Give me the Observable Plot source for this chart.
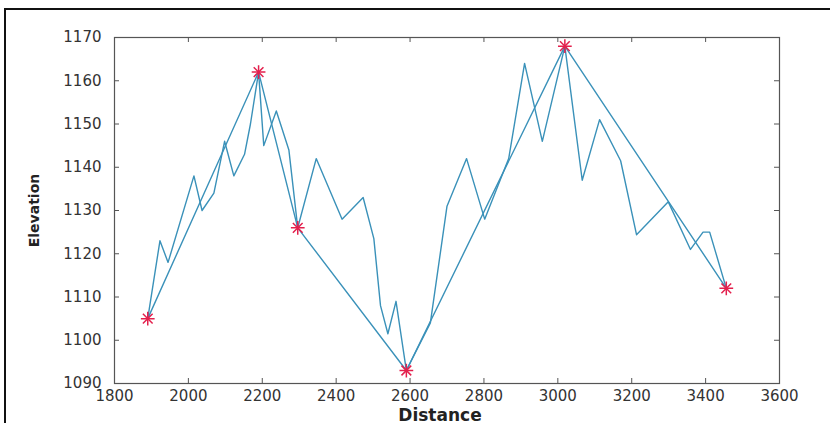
<!DOCTYPE html>
<html>
<head>
<meta charset="utf-8">
<script src="https://cdn.jsdelivr.net/npm/d3@7"></script>
<script src="https://cdn.jsdelivr.net/npm/@observablehq/plot@0.6"></script>
<style>
  html, body { margin: 0; padding: 0; background: #fff; }
  #wrap { position: relative; width: 830px; height: 423px; overflow: hidden; }
  #frame { position: absolute; left: 4px; top: 8px; width: 900px; height: 500px; border: 2px solid #111; box-sizing: border-box; pointer-events: none; }
</style>
</head>
<body>
<div id="wrap"><div id="frame"></div></div>
<script>
// Detailed elevation profile
const profileDistance = [1890, 1923, 1945, 2015, 2037, 2069, 2098, 2123, 2152, 2168, 2190, 2204, 2238, 2272, 2296, 2346, 2416, 2473, 2502, 2520, 2540, 2562, 2590, 2655, 2700, 2753, 2802, 2867, 2910, 2958, 3019, 3066, 3113, 3170, 3213, 3299, 3359, 3393, 3411, 3456];
const profileElevation = [1105, 1123, 1118, 1138, 1130, 1134, 1146, 1138, 1143, 1150, 1162, 1145, 1153, 1144, 1126, 1142, 1128, 1133, 1123.5, 1108, 1101.5, 1109, 1093, 1104, 1131, 1142, 1128, 1142, 1164, 1146, 1168, 1137, 1151, 1141.5, 1124.4, 1132, 1121, 1125, 1125, 1112];

// Key (simplified) points marked with red stars
const keyDistance = [1890, 2190, 2296, 2590, 3019, 3456];
const keyElevation = [1105, 1162, 1126, 1093, 1168, 1112];

// Axis ticks
const xTicks = [1800, 2000, 2200, 2400, 2600, 2800, 3000, 3200, 3400, 3600];
const yTicks = [1090, 1100, 1110, 1120, 1130, 1140, 1150, 1160, 1170];

const profile = profileDistance.map((d, i) => ({distance: d, elevation: profileElevation[i]}));
const keys = keyDistance.map((d, i) => ({distance: d, elevation: keyElevation[i]}));

const lineColor = "#3a91b9";
const starColor = "#e3204d";
const axisColor = "#555";

const W = 830, H = 423;
const mL = 114, mR = 51, mT = 37, mB = 40;
const plotW = W - mL - mR, plotH = H - mT - mB;
const tickLen = 5;

const chart = Plot.plot({
  width: W,
  height: H,
  marginLeft: mL,
  marginRight: mR,
  marginTop: mT,
  marginBottom: mB,
  style: {fontFamily: "DejaVu Sans, Liberation Sans, sans-serif", fontSize: "15px", color: "#333", background: "transparent"},
  x: {domain: [1800, 3600]},
  y: {domain: [1090, 1170]},
  marks: [
    Plot.tickX(xTicks, {x: d => d, insetTop: plotH - tickLen, stroke: axisColor}),
    Plot.tickX(xTicks, {x: d => d, insetBottom: plotH - tickLen, stroke: axisColor}),
    Plot.tickY(yTicks, {y: d => d, insetRight: plotW - tickLen, stroke: axisColor}),
    Plot.tickY(yTicks, {y: d => d, insetLeft: plotW - tickLen, stroke: axisColor}),
    Plot.axisX({ticks: xTicks, tickSize: 0, tickPadding: 7, label: null, tickFormat: d3.format("d"), fill: "#333"}),
    Plot.axisY({ticks: yTicks, tickSize: 0, tickPadding: 13, label: null, tickFormat: d3.format("d"), fill: "#333"}),
    Plot.frame({stroke: axisColor, strokeWidth: 1.2}),
    Plot.line(keys, {x: "distance", y: "elevation", stroke: lineColor, strokeWidth: 1.4}),
    Plot.line(profile, {x: "distance", y: "elevation", stroke: lineColor, strokeWidth: 1.4}),
    Plot.dot(keys, {x: "distance", y: "elevation", symbol: "plus", r: 4.5, stroke: starColor, strokeWidth: 1.5}),
    Plot.dot(keys, {x: "distance", y: "elevation", symbol: "times", r: 4.5, stroke: starColor, strokeWidth: 1.5}),
    Plot.text(["Distance"], {text: d => d, frameAnchor: "bottom", lineAnchor: "bottom", textAnchor: "middle", dy: 37, dx: -7, fontWeight: "bold", fontSize: 17, fill: "#222"}),
    Plot.text(["Elevation"], {text: d => d, frameAnchor: "left", textAnchor: "middle", lineAnchor: "middle", dx: -80, rotate: -90, fontWeight: "bold", fontSize: 14, fill: "#222"})
  ]
});
document.getElementById("wrap").prepend(chart);
</script>
</body>
</html>
